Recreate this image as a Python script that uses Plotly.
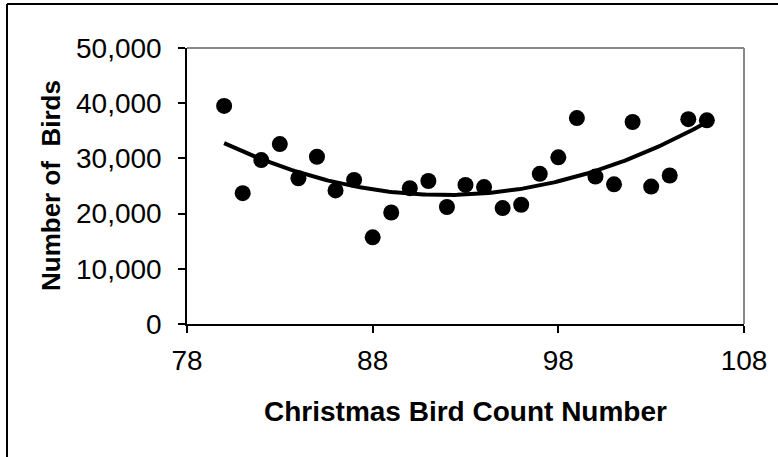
import numpy as np
import plotly.graph_objects as go

count_number = list(range(80, 107))
num_birds = [39500, 23700, 29700, 32600, 26400, 30300, 24200, 26100, 15700, 20200,
             24600, 25900, 21200, 25200, 24800, 21000, 21600, 27200, 30200, 37300,
             26700, 25300, 36600, 24900, 26900, 37100, 36900]
x_ticks = [78, 88, 98, 108]
y_ticks = [0, 10000, 20000, 30000, 40000, 50000]
y_tick_text = ["0", "10,000", "20,000", "30,000", "40,000", "50,000"]

# 2nd-order polynomial trendline fitted to the data
coef = np.polyfit(count_number, num_birds, 2)
trend_x = np.linspace(min(count_number), max(count_number), 200)
trend_y = np.polyval(coef, trend_x)

W, H = 778, 457
ML, MR, MT, MB = 187, 34, 48, 133
PW, PH = W - ML - MR, H - MT - MB

def px_x(px):
    return (px - ML) / PW

def px_y(py):
    return (H - MB - py) / PH

fig = go.Figure()
fig.add_trace(go.Scatter(x=trend_x, y=trend_y, mode="lines",
                         line=dict(color="black", width=4), hoverinfo="skip"))
fig.add_trace(go.Scatter(x=count_number, y=num_birds, mode="markers",
                         marker=dict(color="black", size=16)))

font_family = "Arial, Liberation Sans, sans-serif"
fig.update_layout(
    width=W, height=H,
    margin=dict(l=ML, r=MR, t=MT, b=MB, autoexpand=False),
    paper_bgcolor="white", plot_bgcolor="white",
    showlegend=False,
    font=dict(family=font_family, color="black"),
)
fig.update_xaxes(range=[78, 108], tickvals=x_ticks, showgrid=False, zeroline=False,
                 showline=True, linecolor="black", linewidth=1.5,
                 ticks="outside", ticklen=7, tickcolor="black", tickwidth=1.5,
                 tickfont=dict(size=28, family=font_family, color="black"),
                 ticklabelstandoff=4)
fig.update_yaxes(range=[0, 50000], tickvals=y_ticks, ticktext=y_tick_text,
                 showgrid=False, zeroline=False,
                 showline=True, linecolor="black", linewidth=1.5,
                 ticks="outside", ticklen=7, tickcolor="black", tickwidth=1.5,
                 tickfont=dict(size=28, family=font_family, color="black"),
                 ticklabelstandoff=11)

shapes = [
    # grey plot-area border top & right
    dict(type="line", xref="paper", yref="paper", x0=0, x1=1, y0=1, y1=1,
         line=dict(color="#888888", width=2)),
    dict(type="line", xref="paper", yref="paper", x0=1, x1=1, y0=0, y1=1,
         line=dict(color="#888888", width=2)),
    # outer chart frame (top & left visible)
    dict(type="line", xref="paper", yref="paper", x0=px_x(7), x1=px_x(790),
         y0=px_y(4), y1=px_y(4), line=dict(color="black", width=2)),
    dict(type="line", xref="paper", yref="paper", x0=px_x(7), x1=px_x(7),
         y0=px_y(4), y1=px_y(470), line=dict(color="black", width=2)),
]
fig.update_layout(shapes=shapes)

fig.add_annotation(text="<b>Christmas Bird Count Number</b>", xref="paper", yref="paper",
                   x=0.5, y=px_y(411), xanchor="center", yanchor="middle",
                   showarrow=False, font=dict(size=28, family=font_family, color="black"))
fig.add_annotation(text="<b>Number of  Birds</b>", xref="paper", yref="paper",
                   x=px_x(51), y=0.5, xanchor="center", yanchor="middle", textangle=-90,
                   showarrow=False, font=dict(size=26, family=font_family, color="black"))

fig.write_html("out.html", config={"displayModeBar": False},
               post_script="document.body.style.margin='0';document.body.style.overflow='hidden';")
